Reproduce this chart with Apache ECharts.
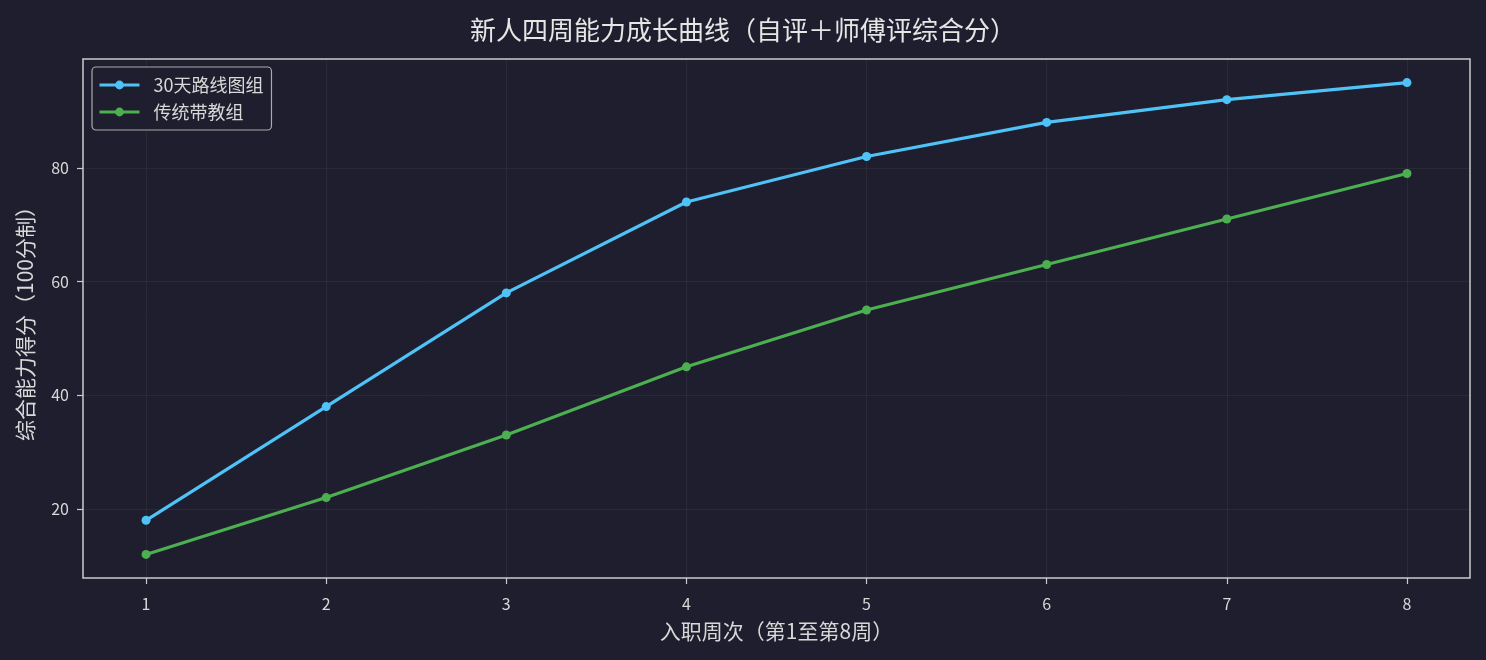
<!DOCTYPE html>
<html lang="zh">
<head>
    <meta charset="UTF-8">
    <script src="https://cdn.jsdelivr.net/npm/echarts@6/dist/echarts.min.js"></script>
    <title>新人四周能力成长曲线</title>
</head>
<body style="margin:0; background:#1e1e2e;">
<div id="container" style="width:1486px; height:660px;"></div>
<script>
    // data
    let weeks = [1, 2, 3, 4, 5, 6, 7, 8];
    let roadmapScores = [18, 38, 58, 74, 82, 88, 92, 95];
    let traditionalScores = [12, 22, 33, 45, 55, 63, 71, 79];
    let seriesNames = ['30天路线图组', '传统带教组'];
    let yTicks = [20, 40, 60, 80];

    let font = '"Noto Sans CJK SC", "DejaVu Sans", sans-serif';
    let textColor = '#d8d8d8';
    let gridColor = 'rgba(255,255,255,0.05)';

    let dom = document.getElementById('container');
    let myChart = echarts.init(dom);

    function pairs(ys) {
        return weeks.map(function (w, i) {
            return [w, ys[i]];
        });
    }

    let option = {
        backgroundColor: '#1e1e2e',
        animation: false,
        textStyle: {fontFamily: font},
        title: {
            text: '新人四周能力成长曲线（自评＋师傅评综合分）',
            left: 'center',
            top: 12,
            textStyle: {color: '#e6e6e6', fontSize: 26, fontWeight: 'normal', fontFamily: font}
        },
        legend: {
            data: seriesNames,
            orient: 'vertical',
            left: 92,
            top: 67,
            padding: [9, 8, 9, 6],
            itemGap: 9,
            itemWidth: 40,
            itemHeight: 11,
            borderColor: '#aaaaaa',
            borderWidth: 1.2,
            borderRadius: 4,
            backgroundColor: '#1e1e2e',
            lineStyle: {width: 3},
            textStyle: {color: textColor, fontSize: 18, fontFamily: font, padding: [0, 0, 0, 9]}
        },
        grid: {
            left: 83,
            right: 16,
            top: 59,
            bottom: 82,
            outerBoundsMode: 'none',
            show: true,
            borderColor: '#cccccc',
            borderWidth: 1.5,
            backgroundColor: 'transparent'
        },
        xAxis: {
            type: 'value',
            min: 0.65,
            max: 8.35,
            splitNumber: 8,
            name: '入职周次（第1至第8周）',
            nameLocation: 'middle',
            nameGap: 43,
            nameTextStyle: {color: textColor, fontSize: 21},
            axisLine: {show: false},
            axisTick: {
                show: true, length: 6, customValues: weeks,
                lineStyle: {color: '#cccccc', width: 1.2}
            },
            axisLabel: {
                color: textColor, fontSize: 16, margin: 18, customValues: weeks,
                formatter: function (v) { return String(v); }
            },
            splitLine: {show: true, lineStyle: {color: gridColor, width: 1}}
        },
        yAxis: {
            type: 'value',
            min: 7.85,
            max: 99.15,
            splitNumber: 5,
            name: '综合能力得分（100分制）',
            nameLocation: 'middle',
            nameGap: 47,
            nameTextStyle: {color: textColor, fontSize: 21},
            axisLine: {show: false},
            axisTick: {
                show: true, length: 6, customValues: yTicks,
                lineStyle: {color: '#cccccc', width: 1.2}
            },
            axisLabel: {
                color: textColor, fontSize: 16, margin: 14, customValues: yTicks,
                formatter: function (v) { return String(v); }
            },
            splitLine: {show: true, lineStyle: {color: gridColor, width: 1}}
        },
        series: [
            {
                name: seriesNames[0],
                type: 'line',
                data: pairs(roadmapScores),
                symbol: 'circle',
                symbolSize: 9,
                itemStyle: {color: '#4fc3f7'},
                lineStyle: {color: '#4fc3f7', width: 3.2}
            },
            {
                name: seriesNames[1],
                type: 'line',
                data: pairs(traditionalScores),
                symbol: 'circle',
                symbolSize: 9,
                itemStyle: {color: '#4caf50'},
                lineStyle: {color: '#4caf50', width: 3.2}
            }
        ]
    };

    myChart.setOption(option);
</script>
</body>
</html>
